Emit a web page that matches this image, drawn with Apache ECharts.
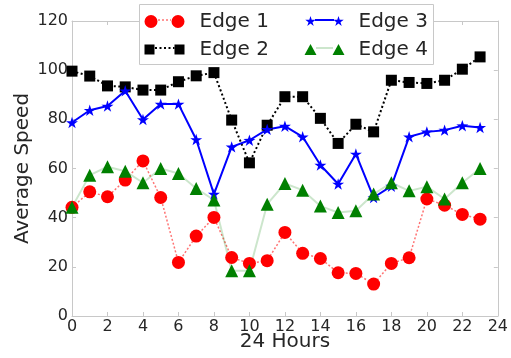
<!DOCTYPE html>
<html><head><meta charset="utf-8">
<script src="https://cdn.jsdelivr.net/npm/echarts@6/dist/echarts.min.js"></script>
<style>html,body{margin:0;padding:0;background:#fff}#c{width:511px;height:358px}</style>
</head><body><div id="c"></div>
<script>
const hours = [0,1,2,3,4,5,6,7,8,9,10,11,12,13,14,15,16,17,18,19,20,21,22,23];
const xTicks = [0,2,4,6,8,10,12,14,16,18,20,22,24];
const yTicks = [0,20,40,60,80,100,120];
const seriesNames = ['Edge 1','Edge 2','Edge 3','Edge 4'];
const edge1 = [44.2,50.5,48.5,55.3,63.1,48.2,21.8,32.5,40.1,23.8,21.4,22.5,34.0,25.5,23.4,17.6,17.3,13.0,21.4,23.7,47.6,45.1,41.3,39.4];
const edge2 = [99.6,97.6,93.6,93.2,91.9,91.9,95.3,97.7,99.0,79.7,62.3,77.6,89.2,89.2,80.4,70.2,78.0,74.9,95.9,95.0,94.6,95.9,100.4,105.4];
const edge3 = [78.7,83.7,85.4,91.6,79.9,86.2,86.2,71.8,49.6,68.8,71.5,75.9,77.2,72.9,61.4,53.7,65.9,48.2,52.8,72.9,74.9,75.6,77.4,76.7];
const edge4 = [44.2,57.3,60.7,58.9,54.2,60.0,58.0,51.9,47.2,18.4,18.4,45.5,53.9,51.2,44.7,42.1,42.8,49.6,54.2,50.9,52.6,47.6,54.2,60.0];

const FONT = 'DejaVu Sans';
const TXT = '#262626';
const FRAME = '#c8c8c8';
const starPath = 'path://M0,-6.5L1.47,-2.02L6.18,-2.01L2.38,0.77L3.82,5.26L0,2.5L-3.82,5.26L-2.38,0.77L-6.18,-2.01L-1.47,-2.02Z';
const iconCirc = 'path://M0,6.5a6.5,6.5 0 1,0 13,0a6.5,6.5 0 1,0 -13,0ZM27,6.5a6.5,6.5 0 1,0 13,0a6.5,6.5 0 1,0 -13,0Z';
const iconSq = 'path://M0,0M40,13M0,1.5h10v10h-10zM30,1.5h10v10h-10z';
const iconStar = 'path://M0,0M40,13M6,1L7.23,4.8L11.23,4.8L8,7.15L9.23,10.95L6,8.6L2.77,10.95L4,7.15L0.77,4.8L4.77,4.8ZM34,1L35.23,4.8L39.23,4.8L36,7.15L37.23,10.95L34,8.6L30.77,10.95L32,7.15L28.77,4.8L32.77,4.8Z';
const iconTri = 'path://M0,0M40,13M6,1L12,12L0,12ZM34,1L40,12L28,12Z';

function pts(vals){ return hours.map((h,i)=>[h, vals[i]]); }

const chart = echarts.init(document.getElementById('c'), null, {renderer:'canvas'});
const axCommon = {
  type:'value', axisLine:{show:true, onZero:false, lineStyle:{color:FRAME, width:1}},
  axisTick:{show:true, inside:true, length:4, lineStyle:{color:FRAME}},
  splitLine:{show:false}
};
const legendText = {fontFamily:FONT, fontSize:20, color:TXT, lineHeight:13};
const option = {
  animation:false,
  backgroundColor:'#fff',
  grid:{left:72, right:10, top:21, bottom:42},
  xAxis:[
    Object.assign({}, axCommon, {min:xTicks[0], max:xTicks[xTicks.length-1], interval:2,
      axisLabel:{fontFamily:FONT, fontSize:16, color:TXT, margin:3},
      name:'24 Hours', nameLocation:'middle', nameGap:16, nameMoveOverlap:false,
      nameTextStyle:{fontFamily:FONT, fontSize:20, color:TXT}}),
    Object.assign({}, axCommon, {position:'top', min:xTicks[0], max:xTicks[xTicks.length-1], interval:2, axisLabel:{show:false}})
  ],
  yAxis:[
    Object.assign({}, axCommon, {min:yTicks[0], max:yTicks[yTicks.length-1], interval:20,
      axisLabel:{fontFamily:FONT, fontSize:16, color:TXT, margin:4},
      name:'Average Speed', nameLocation:'middle', nameGap:39, nameMoveOverlap:false,
      nameTextStyle:{fontFamily:FONT, fontSize:20, color:TXT}}),
    Object.assign({}, axCommon, {position:'right', min:yTicks[0], max:yTicks[yTicks.length-1], interval:20, axisLabel:{show:false}})
  ],
  legend:[
    {orient:'vertical', left:144.5, top:11.5, padding:0, itemWidth:40, itemHeight:13, itemGap:8, z:20,
     selectedMode:false, textStyle:Object.assign({padding:[0,0,0,10]}, legendText),
     data:[{name:seriesNames[0], icon:iconCirc},{name:seriesNames[1], icon:iconSq}]},
    {orient:'vertical', left:304.5, top:11.5, padding:0, itemWidth:40, itemHeight:13, itemGap:8, z:20,
     selectedMode:false, textStyle:Object.assign({padding:[0,0,0,9]}, legendText),
     data:[{name:seriesNames[2], icon:iconStar},{name:seriesNames[3], icon:iconTri}]}
  ],
  graphic:[
    {type:'rect', z:10, shape:{x:139.5, y:4.5, width:294, height:60}, style:{fill:'#fff', stroke:FRAME, lineWidth:1}},
    {type:'line', z:15, shape:{x1:158, y1:20, x2:171, y2:20}, style:{stroke:'rgba(255,0,0,0.55)', lineWidth:1.5, lineDash:[2,2]}},
    {type:'line', z:15, shape:{x1:155, y1:48, x2:174.5, y2:48}, style:{stroke:'#000', lineWidth:2, lineDash:[2,2.5]}},
    {type:'line', z:15, shape:{x1:315, y1:20, x2:334, y2:20}, style:{stroke:'#0000ff', lineWidth:2}},
    {type:'line', z:15, shape:{x1:316, y1:48, x2:333, y2:48}, style:{stroke:'rgba(0,128,0,0.2)', lineWidth:2}}
  ],
  series:[
    {name:seriesNames[0], type:'line', data:pts(edge1), symbol:'circle', symbolSize:13,
     itemStyle:{color:'#ff0000'}, lineStyle:{color:'rgba(255,0,0,0.55)', width:1.5, type:[2,2]}},
    {name:seriesNames[1], type:'line', data:pts(edge2), symbol:'rect', symbolSize:11,
     itemStyle:{color:'#000000'}, lineStyle:{color:'#000000', width:2, type:[2,2.5]}},
    {name:seriesNames[2], type:'line', data:pts(edge3), symbol:starPath, symbolSize:12, symbolKeepAspect:true,
     itemStyle:{color:'#0000ff'}, lineStyle:{color:'#0000ff', width:2}},
    {name:seriesNames[3], type:'line', data:pts(edge4), symbol:'triangle', symbolSize:13,
     itemStyle:{color:'#008000'}, lineStyle:{color:'rgba(0,128,0,0.2)', width:2}}
  ]
};
chart.setOption(option);
</script></body></html>
